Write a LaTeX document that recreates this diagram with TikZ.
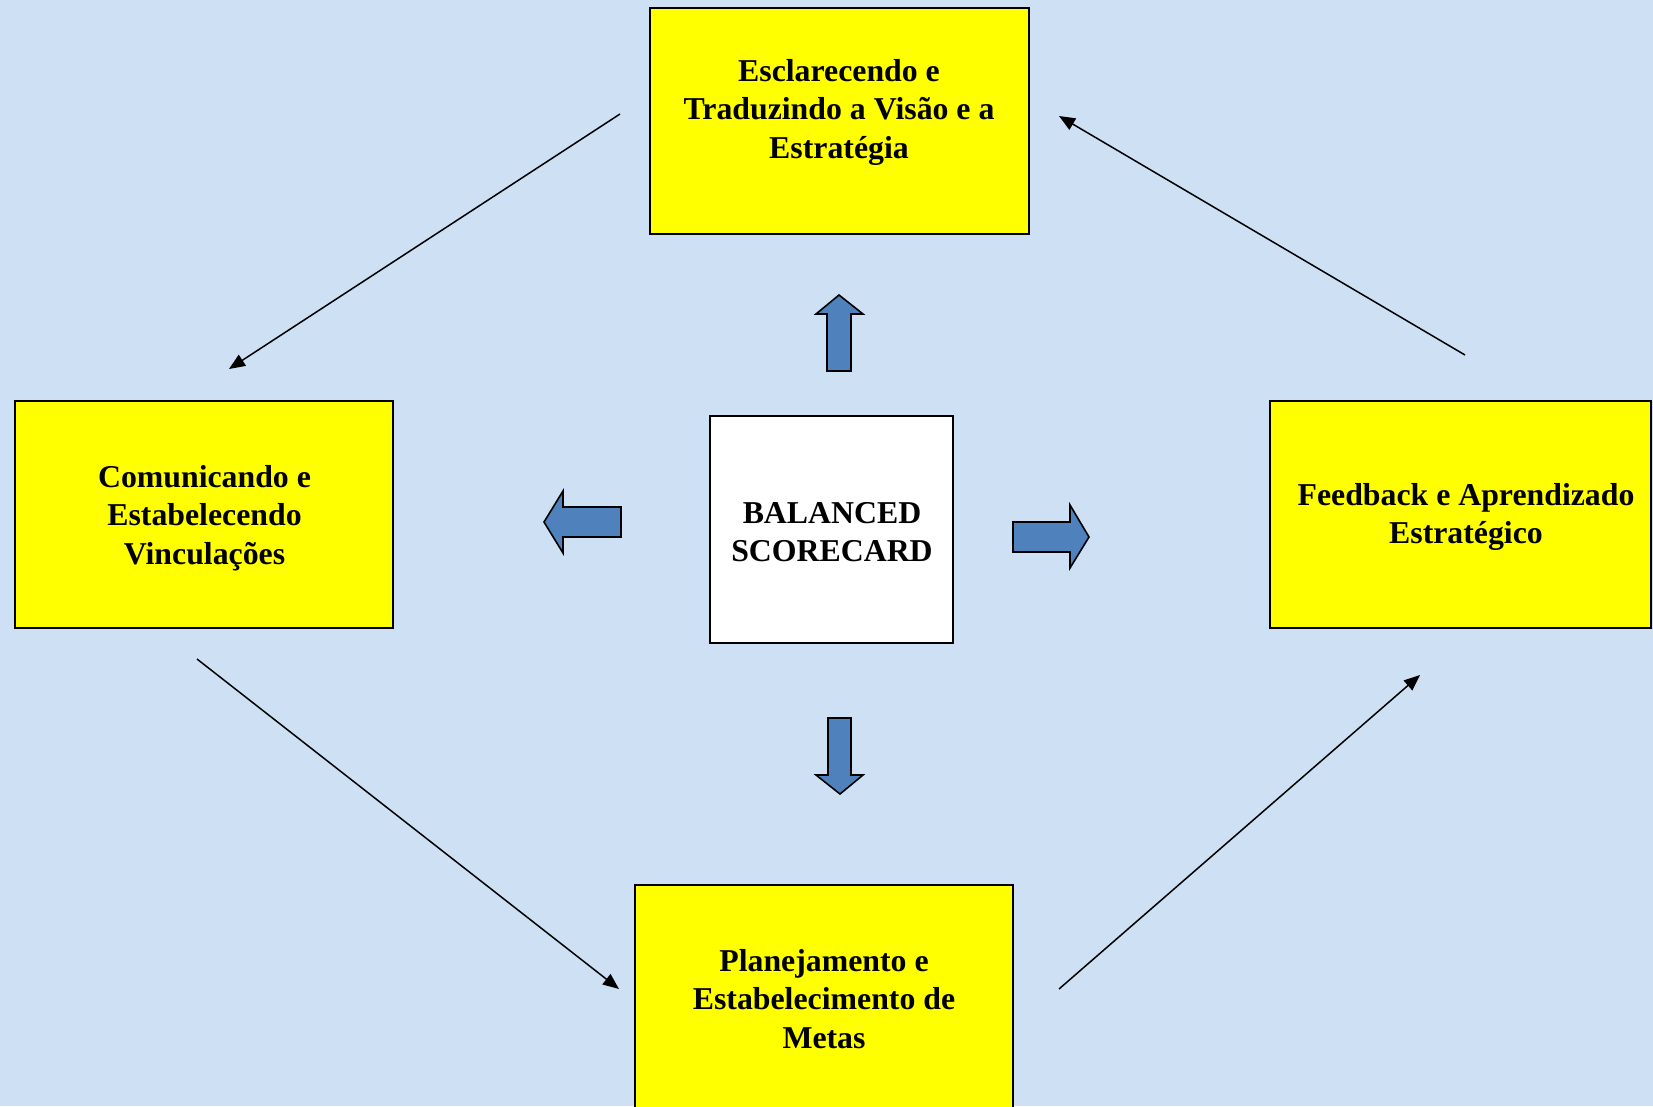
\documentclass[tikz,border=0pt]{standalone}
\usepackage{fontspec}
\setmainfont{Liberation Serif}
\usetikzlibrary{arrows.meta}
\definecolor{bgblue}{RGB}{206,224,243}
\definecolor{boxyellow}{RGB}{255,255,0}
\definecolor{arrowblue}{RGB}{79,129,189}
\tikzset{
  stagebox/.style={draw=black, line width=1.8pt, fill=boxyellow, inner sep=0pt},
  centerbox/.style={draw=black, line width=1.8pt, fill=white, inner sep=0pt},
  boxtext/.style={align=center, font=\fontsize{31.8}{38.5}\selectfont\bfseries, inner sep=0pt},
  blockarrow/.style={draw=black, line width=1.6pt, fill=arrowblue, line join=miter},
  flow/.style={line width=1.5pt, -{Triangle[length=16pt,width=13pt]}}
}
\begin{document}
\begin{tikzpicture}[x=1pt,y=-1pt]
\useasboundingbox (0,0) rectangle (1653,1106);
\fill[bgblue] (0,0) rectangle (1653,1106);
% boxes
\node[stagebox, minimum width=379pt, minimum height=226pt] (top) at (839.5,121) {};
\node[stagebox, minimum width=378pt, minimum height=227pt] (left) at (204,514.5) {};
\node[stagebox, minimum width=381pt, minimum height=227pt] (right) at (1460.5,514.5) {};
\node[stagebox, minimum width=378pt, minimum height=240pt] (bottom) at (824,1005) {};
\node[centerbox, minimum width=243pt, minimum height=227pt] (center) at (831.5,529.5) {};
% texts
\node[boxtext] (toptext) at (839,112) {Esclarecendo e\\Traduzindo a Visão e a\\Estratégia};
\node[boxtext] (lefttext) at (204.5,518) {Comunicando e\\Estabelecendo\\Vinculações};
\node[boxtext] (righttext) at (1466,517) {Feedback e Aprendizado\\Estratégico};
\node[boxtext] (bottomtext) at (824,999) {Planejamento e\\Estabelecimento de\\Metas};
\node[boxtext] (centertext) at (832,532) {BALANCED\\SCORECARD};
% block arrows
\draw[blockarrow] (827,371) -- (827,314) -- (816,314) -- (839,295) -- (863,314) -- (851,314) -- (851,371) -- cycle;
\draw[blockarrow] (621,507) -- (563,507) -- (563,491) -- (544,522) -- (563,553) -- (563,537) -- (621,537) -- cycle;
\draw[blockarrow] (1013,522) -- (1070,522) -- (1070,505) -- (1089,537) -- (1070,568) -- (1070,552) -- (1013,552) -- cycle;
\draw[blockarrow] (828,718) -- (851,718) -- (851,775) -- (863,775) -- (840,794) -- (816,775) -- (828,775) -- cycle;
% thin arrows
\coordinate (a1s) at (620,114);
\coordinate (a1e) at (229,369);
\coordinate (a2s) at (1465,355);
\coordinate (a2e) at (1059,116);
\coordinate (a3s) at (197,659);
\coordinate (a3e) at (619,989);
\coordinate (a4s) at (1059,989);
\coordinate (a4e) at (1420,675);
\draw[flow] (a1s) -- (a1e);
\draw[flow] (a2s) -- (a2e);
\draw[flow] (a3s) -- (a3e);
\draw[flow] (a4s) -- (a4e);
\end{tikzpicture}
\end{document}
